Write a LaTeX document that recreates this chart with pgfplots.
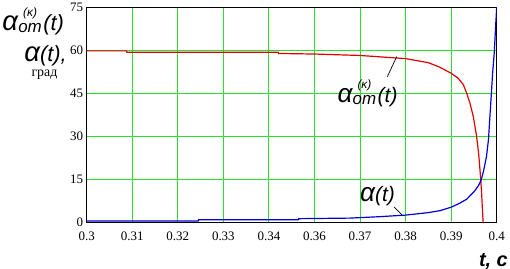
\documentclass[border=0pt]{standalone}
\usepackage{graphicx}
\usepackage{pgfplots}
\pgfplotsset{compat=1.18}
\usepackage{fontspec}
\setmainfont{Liberation Serif}
\newfontfamily\lsans{Liberation Sans}
\definecolor{gridgreen}{RGB}{40,225,40}
\definecolor{cred}{RGB}{225,0,0}
\definecolor{cblue}{RGB}{0,0,215}
\newcommand{\al}{\scalebox{1.25}{α}}
\newsavebox\ombox
\newcommand{\aomlabel}{%
 \begingroup\lsans\itshape
 \sbox\ombox{\fontsize{17}{18}\selectfont om}%
 \al\kern0.3bp\raisebox{-2bp}{\usebox\ombox}\hspace{-\wd\ombox}\makebox[\wd\ombox][c]{\raisebox{14bp}{\fontsize{12}{12}\selectfont(κ)}}\kern1.5bp(t)\endgroup}
\begin{document}
\begin{tikzpicture}
\begin{axis}[
 scale only axis, width=410bp, height=215.5bp,
 xmin=0.3, xmax=0.4, ymin=0, ymax=75,
 xtick={0.3,0.311111,0.322222,0.333333,0.344444,0.355556,0.366667,0.377778,0.388889,0.4},
 xticklabels={0.3,0.31,0.32,0.33,0.34,0.36,0.37,0.38,0.39,0.4},
 ytick={0,15,30,45,60,75},
 grid=major, major grid style={gridgreen, line width=1bp},
 axis line style={black, line width=1.3bp},
 major tick length=0pt, tick style={draw=none},
 /pgf/number format/assume math mode=true,
 ticklabel style={font=\fontsize{13}{14}\selectfont},
 xticklabel style={inner sep=0pt, yshift=-9bp},
 yticklabel style={inner sep=0pt, xshift=-3.5bp},
 clip=true,
]
\addplot[cred, line width=1.2bp] coordinates {
(0.3,59.8) (0.3097,59.8) (0.3098,59.3) (0.3467,59.3) (0.3468,58.9)
(0.3556,58.7) (0.3667,58.2) (0.3778,57.1) (0.3833,55.7) (0.386,54.2)
(0.3889,52.0) (0.3905,50.4) (0.3918,48.2) (0.3927,45) (0.3935,41.5)
(0.3943,36.9) (0.3951,30) (0.3956,24) (0.3960,17) (0.3963,11) (0.3965,5) (0.3967,0)
};
\addplot[cblue, line width=1.2bp] coordinates {
(0.3,0.6) (0.3272,0.6) (0.3273,1.0) (0.3516,1.0) (0.3517,1.4)
(0.3642,1.6) (0.3715,2.1) (0.3778,2.65) (0.3833,3.5) (0.3862,4.2)
(0.3889,5.4) (0.3910,6.8) (0.3927,8.2) (0.3946,11) (0.3955,12.8)
(0.3962,14.8) (0.3968,18) (0.3975,23) (0.3980,29) (0.3983,36)
(0.3987,45) (0.3990,52) (0.3994,59) (0.3998,70) (0.4,75)
};
\draw[black, line width=0.7bp] (axis cs:0.37561,57.8) -- (axis cs:0.37332,50.8);
\draw[black, line width=0.7bp] (axis cs:0.37502,5.4) -- (axis cs:0.3769,2.7);
\end{axis}
\begin{scope}[shift={(current axis.south west)}, x=1bp, y=1bp]
\node[anchor=base west, inner sep=0pt, font=\fontsize{22}{24}\selectfont] at (-84.5,192) {\aomlabel};
\node[anchor=base west, inner sep=0pt, font=\fontsize{22}{24}\selectfont] at (-62.5,161) {\lsans\itshape \al(t),};
\node[anchor=base, inner sep=0pt, font=\fontsize{14}{15}\selectfont] at (-42.2,146) {град};
\node[anchor=base east, inner sep=0pt, font=\fontsize{20}{22}\selectfont] at (421.3,-43.3) {\lsans\bfseries\itshape t, c};
\node[inner sep=0pt, font=\fontsize{21}{23}\selectfont] at (280.8,129.7) {\aomlabel};
\node[inner sep=0pt, font=\fontsize{21}{23}\selectfont] at (290.8,26.9) {\lsans\itshape \al(t)};
\end{scope}
\pgfresetboundingbox
\path (current axis.south west) ++(-86.7bp,-46.3bp) rectangle ++(510bp,269bp);
\end{tikzpicture}
\end{document}
